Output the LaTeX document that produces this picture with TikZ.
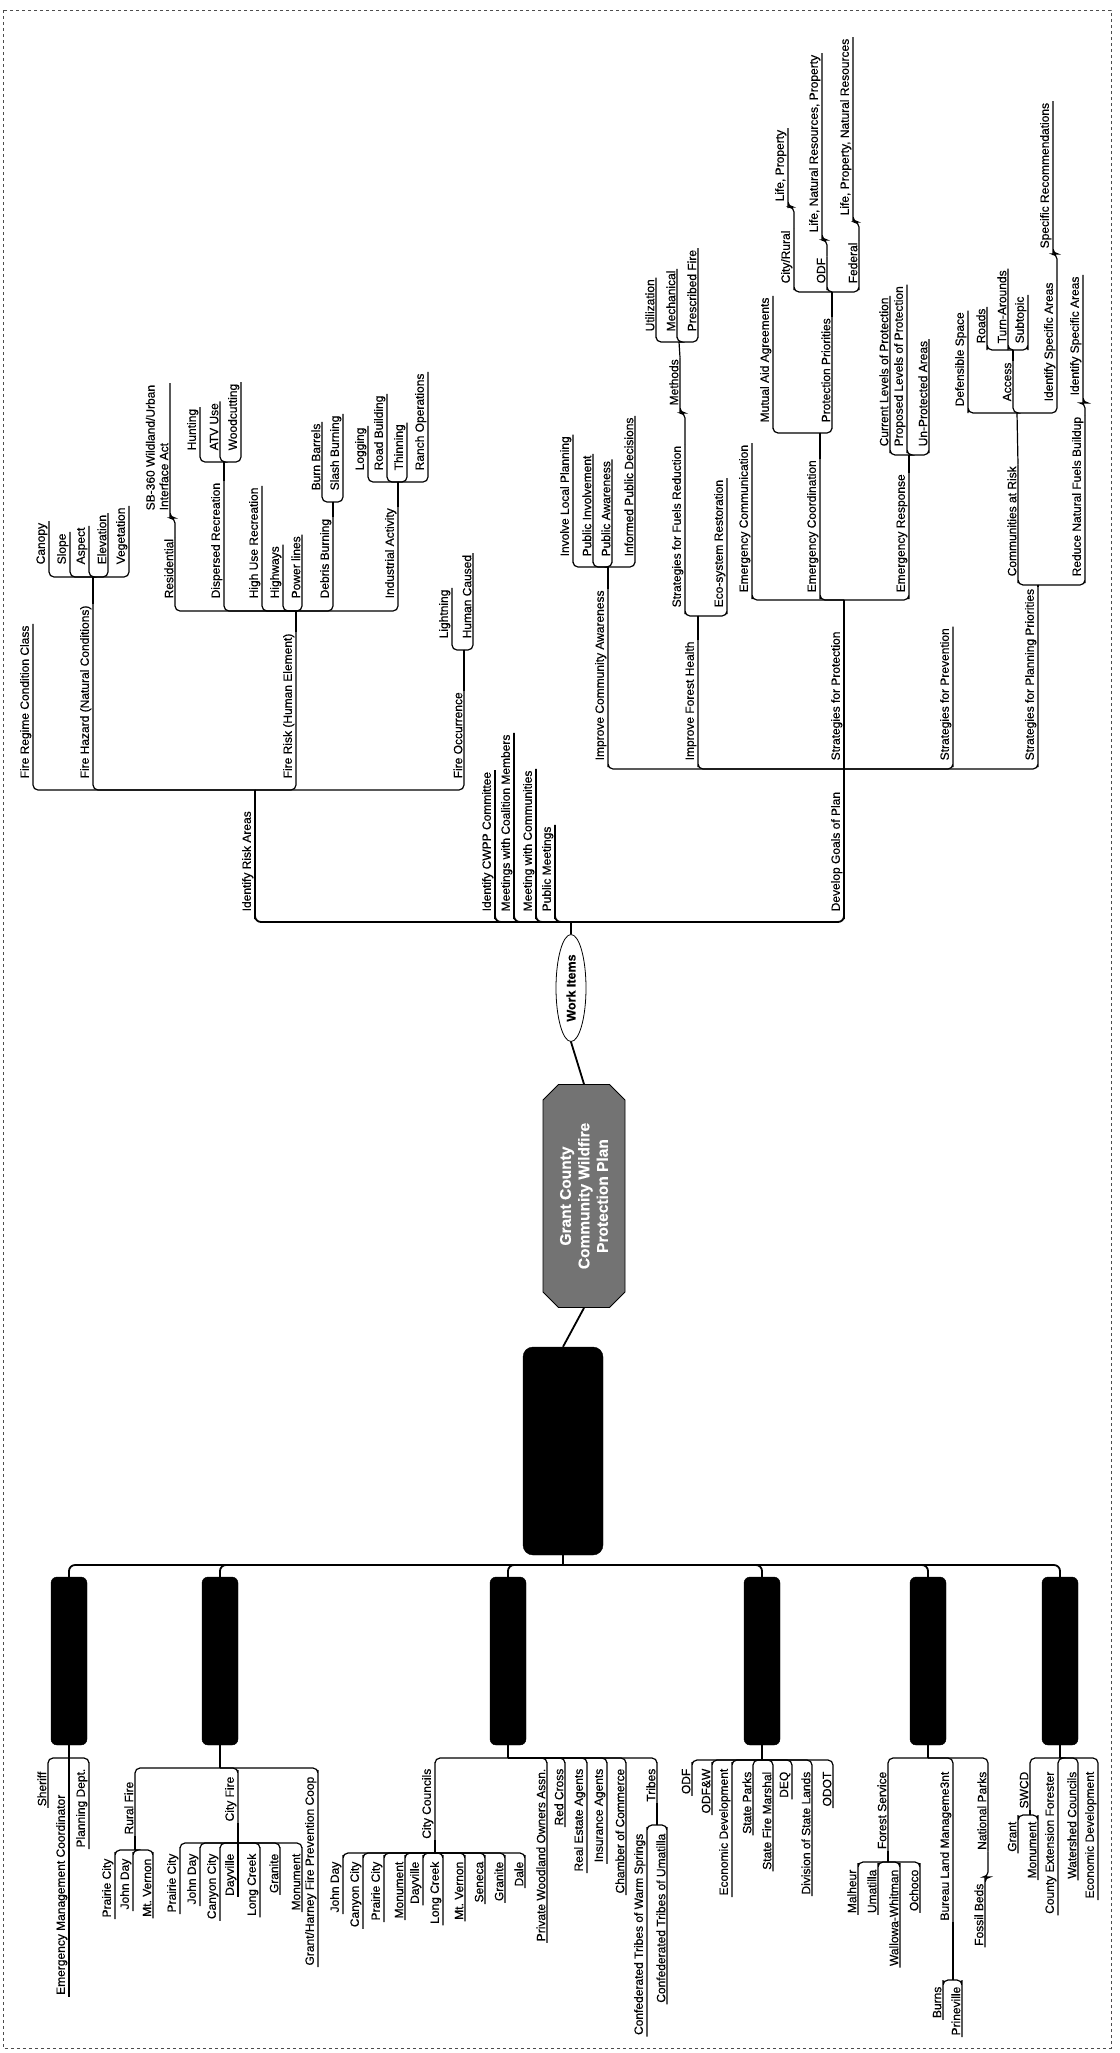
\documentclass[tikz,border=0pt]{standalone}
\usepackage{fontspec}
\setmainfont{Liberation Sans}[FakeBold=0.5]
\usetikzlibrary{shapes.geometric,shapes.misc}
\newcommand\tfont{\fontsize{12}{13.5}\selectfont}
\tikzset{
  topic/.style={rotate=90, anchor=south west, inner sep=1.5pt, font=\tfont},
  member/.style={rotate=90, anchor=south east, inner sep=1.5pt, font=\tfont},
  ln/.style={line width=1.2pt, rounded corners=5pt},
  trunk/.style={line width=1.8pt, rounded corners=6pt},
  hub/.style={ellipse, draw, thick, fill=white, rotate=90, inner sep=0pt,
              minimum width=107pt, minimum height=30pt,
              font=\bfseries\fontsize{12.5}{14}\selectfont},
  root/.style={chamfered rectangle, chamfered rectangle xsep=12pt, draw, thick,
               fill=black!55, text=white, rotate=90, align=center,
               minimum width=223pt, minimum height=82pt,
               font=\bfseries\fontsize{15.5}{18.5}\selectfont},
  hold/.style={draw, fill=black, rounded corners=10pt, minimum width=80pt, minimum height=208pt},
  grp/.style={draw, fill=black, rounded corners=6pt, minimum width=36pt, minimum height=168pt}
}

\begin{document}
\begin{tikzpicture}[x=1pt,y=-1pt]
\useasboundingbox (0,0) rectangle (1119,2053);
\draw[dashed, line width=0.6pt, black!70] (3,10) rectangle (1111,2048);

\node[root] (Root) at (584,1196) {Grant County\\Community Wildfire\\Protection Plan};
\node[hub] (WI) at (571,988) {Work Items};
\node[hold] (Hold) at (563,1451) {};
\draw[trunk] (Root.east) -- (WI.west);
\draw[trunk] (Root.west) -- (Hold.north);

% work items
\coordinate (WIj) at (571,922);
\node[topic] (IRA) at (255,913) {Identify Risk Areas};
\node[topic] (CWPP) at (495,913) {Identify CWPP Committee};
\node[topic] (MCM) at (514,913) {Meetings with Coalition Members};
\node[topic] (MWC) at (536,913) {Meeting with Communities};
\node[topic] (PM) at (555,913) {Public Meetings};
\node[topic] (DGP) at (844,913) {Develop Goals of Plan};
\draw[trunk] (WI.east) -- (WIj);
\foreach \kid in {IRA,CWPP,MCM,MWC,PM,DGP}
  \draw[trunk] (WIj) -| (\kid.south west) -- (\kid.south east);

\coordinate (IRAj) at (255,790);
\node[topic] (FRCC) at (33,780) {Fire Regime Condition Class};
\node[topic] (FH) at (93,780) {Fire Hazard (Natural Conditions)};
\node[topic] (FRH) at (296,780) {Fire Risk (Human Element)};
\node[topic] (FO) at (464,780) {Fire Occurrence};
\draw[ln] (IRA.south east) -- (IRAj);
\foreach \kid in {FRCC,FH,FRH,FO}
  \draw[ln] (IRAj) -| (\kid.south west) -- (\kid.south east);

\coordinate (FHj) at (93,577);
\node[topic] (Can) at (49,566) {Canopy};
\node[topic] (Slo) at (70,566) {Slope};
\node[topic] (Asp) at (89,566) {Aspect};
\node[topic] (Ele) at (108,566) {Elevation};
\node[topic] (Veg) at (129,566) {Vegetation};
\draw[ln] (FH.south east) -- (FHj);
\foreach \kid in {Can,Slo,Asp,Ele,Veg}
  \draw[ln] (FHj) -| (\kid.south west) -- (\kid.south east);

\coordinate (FRHj) at (296,611);
\node[topic] (Res) at (175,600) {Residential};
\node[topic] (DRec) at (224,600) {Dispersed Recreation};
\node[topic] (HUR) at (262,600) {High Use Recreation};
\node[topic] (Hwy) at (283,600) {Highways};
\node[topic] (Pow) at (302,600) {Power lines};
\node[topic] (Deb) at (333,600) {Debris Burning};
\node[topic] (Ind) at (398,600) {Industrial Activity};
\draw[ln] (FRH.south east) -- (FRHj);
\foreach \kid in {Res,DRec,HUR,Hwy,Pow,Deb,Ind}
  \draw[ln] (FRHj) -| (\kid.south west) -- (\kid.south east);

\coordinate (Resj) at (175,518);
\node[topic, align=left] (SB) at (170,512) {SB-360 Wildland/Urban\\Interface Act};
\draw[ln] (Res.south east) -- (Resj) -| (SB.south west) -- (SB.south east);

\coordinate (DRecj) at (224,462);
\node[topic] (Hun) at (200,452) {Hunting};
\node[topic] (ATV) at (220,452) {ATV Use};
\node[topic] (Woo) at (241,452) {Woodcutting};
\draw[ln] (DRec.south east) -- (DRecj);
\foreach \kid in {Hun,ATV,Woo}
  \draw[ln] (DRecj) -| (\kid.south west) -- (\kid.south east);

\coordinate (Debj) at (333,502);
\node[topic] (BuB) at (322,492) {Burn Barrels};
\node[topic] (SlB) at (343,492) {Slash Burning};
\draw[ln] (Deb.south east) -- (Debj);
\foreach \kid in {BuB,SlB}
  \draw[ln] (Debj) -| (\kid.south west) -- (\kid.south east);

\coordinate (Indj) at (398,482);
\node[topic] (Log) at (368,472) {Logging};
\node[topic] (RoB) at (387,472) {Road Building};
\node[topic] (Thi) at (407,472) {Thinning};
\node[topic] (Ran) at (428,472) {Ranch Operations};
\draw[ln] (Ind.south east) -- (Indj);
\foreach \kid in {Log,RoB,Thi,Ran}
  \draw[ln] (Indj) -| (\kid.south west) -- (\kid.south east);

\coordinate (FOj) at (464,650);
\node[topic] (Lig) at (452,640) {Lightning};
\node[topic] (HuC) at (473,640) {Human Caused};
\draw[ln] (FO.south east) -- (FOj);
\foreach \kid in {Lig,HuC}
  \draw[ln] (FOj) -| (\kid.south west) -- (\kid.south east);

% goals of plan
\coordinate (DGPj) at (844,769);
\node[topic] (ICA) at (608,762) {Improve Community Awareness};
\node[topic] (IFH) at (698,762) {Improve Forest Health};
\node[topic] (SPro) at (844,762) {Strategies for Protection};
\node[topic] (SPre) at (953,762) {Strategies for Prevention};
\node[topic] (SPla) at (1038,762) {Strategies for Planning Priorities};
\draw[ln] (DGP.south east) -- (DGPj);
\foreach \kid in {ICA,IFH,SPro,SPre,SPla}
  \draw[ln] (DGPj) -| (\kid.south west) -- (\kid.south east);

\coordinate (ICAj) at (608,567);
\node[topic] (ILP) at (573,558) {Involve Local Planning};
\node[topic] (PIn) at (593,558) {Public Involvement};
\node[topic] (PAw) at (612,558) {Public Awareness};
\node[topic] (IPD) at (635,558) {Informed Public Decisions};
\draw[ln] (ICA.south east) -- (ICAj);
\foreach \kid in {ILP,PIn,PAw,IPD}
  \draw[ln] (ICAj) -| (\kid.south west) -- (\kid.south east);

\coordinate (IFHj) at (698,616);
\node[topic] (SFR) at (685,609) {Strategies for Fuels Reduction};
\node[topic] (ESR) at (727,609) {Eco-system Restoration};
\draw[ln] (IFH.south east) -- (IFHj);
\foreach \kid in {SFR,ESR}
  \draw[ln] (IFHj) -| (\kid.south west) -- (\kid.south east);

\coordinate (SFRj) at (685,413);
\node[topic] (Met) at (680,407) {Methods};
\draw[ln] (SFR.south east) -- (SFRj) -| (Met.south west) -- (Met.south east);

\coordinate (Metj) at (679,342);
\node[topic] (Uti) at (656,333) {Utilization};
\node[topic] (Mec) at (677,333) {Mechanical};
\node[topic] (PFi) at (698,333) {Prescribed Fire};
\draw[ln] (Met.south east) -- (Metj);
\foreach \kid in {Uti,Mec,PFi}
  \draw[ln] (Metj) -| (\kid.south west) -- (\kid.south east);

\coordinate (SProj) at (844,600);
\node[topic] (ECom) at (752,594) {Emergency Communication};
\node[topic] (ECoo) at (820,594) {Emergency Coordination};
\node[topic] (ERes) at (909,594) {Emergency Response};
\draw[ln] (SPro.south east) -- (SProj);
\foreach \kid in {ECom,ECoo,ERes}
  \draw[ln] (SProj) -| (\kid.south west) -- (\kid.south east);

\coordinate (ECooj) at (820,433);
\node[topic] (MAA) at (773,424) {Mutual Aid Agreements};
\node[topic] (PPr) at (832,424) {Protection Priorities};
\draw[ln] (ECoo.south east) -- (ECooj);
\foreach \kid in {MAA,PPr}
  \draw[ln] (ECooj) -| (\kid.south west) -- (\kid.south east);

\coordinate (PPrj) at (832,292);
\node[topic] (CRu) at (794,285) {City/Rural};
\node[topic] (ODFa) at (827,285) {ODF};
\node[topic] (Fed) at (859,285) {Federal};
\draw[ln] (PPr.south east) -- (PPrj);
\foreach \kid in {CRu,ODFa,Fed}
  \draw[ln] (PPrj) -| (\kid.south west) -- (\kid.south east);

\coordinate (CRuj) at (794,207);
\coordinate (ODFaj) at (827,240);
\coordinate (Fedj) at (859,222);
\node[topic] (LP) at (788,203) {Life, Property};
\node[topic] (LNRP) at (822,234) {Life, Natural Resources, Property};
\node[topic] (LPNR) at (853,217) {Life, Property, Natural Resources};
\draw[ln] (CRu.south east) -- (CRuj) -| (LP.south west) -- (LP.south east);
\draw[ln] (ODFa.south east) -- (ODFaj) -| (LNRP.south west) -- (LNRP.south east);
\draw[ln] (Fed.south east) -- (Fedj) -| (LPNR.south west) -- (LPNR.south east);

\coordinate (EResj) at (909,455);
\node[topic] (CLP) at (890,448) {Current Levels of Protection};
\node[topic] (PLP) at (907,448) {Proposed Levels of Protection};
\node[topic] (UPA) at (929,448) {Un-Protected Areas};
\draw[ln] (ERes.south east) -- (EResj);
\foreach \kid in {CLP,PLP,UPA}
  \draw[ln] (EResj) -| (\kid.south west) -- (\kid.south east);

\coordinate (SPlaj) at (1038,585);
\node[topic] (CaR) at (1018,578) {Communities at Risk};
\node[topic] (RNF) at (1085,578) {Reduce Natural Fuels Buildup};
\draw[ln] (SPla.south east) -- (SPlaj);
\foreach \kid in {CaR,RNF}
  \draw[ln] (SPlaj) -| (\kid.south west) -- (\kid.south east);

\coordinate (CaRj) at (1017,413);
\node[topic] (DSp) at (968,408) {Defensible Space};
\node[topic] (Acc) at (1013,403) {Access};
\node[topic] (ISA) at (1057,403) {Identify Specific Areas};
\draw[ln] (CaR.south east) -- (CaRj);
\foreach \kid in {DSp,Acc,ISA}
  \draw[ln] (CaRj) -| (\kid.south west) -- (\kid.south east);

\coordinate (Accj) at (1013,350);
\node[topic] (Roa) at (987,345) {Roads};
\node[topic] (TAr) at (1008,345) {Turn-Arounds};
\node[topic] (Sub) at (1028,345) {Subtopic};
\draw[ln] (Acc.south east) -- (Accj);
\foreach \kid in {Roa,TAr,Sub}
  \draw[ln] (Accj) -| (\kid.south west) -- (\kid.south east);

\coordinate (ISAj) at (1057,254);
\node[topic] (SRe) at (1053,250) {Specific Recommendations};
\draw[ln] (ISA.south east) -- (ISAj) -| (SRe.south west) -- (SRe.south east);

\coordinate (RNFj) at (1085,403);
\node[topic] (ISB) at (1083,397) {Identify Specific Areas};
\draw[ln] (RNF.south east) -- (RNFj) -| (ISB.south west) -- (ISB.south east);

% stakeholder groups
\coordinate (ORGj) at (563,1565);
\node[grp] (G1) at (69,1661) {};
\node[grp] (G2) at (220,1661) {};
\node[grp] (G3) at (508,1661) {};
\node[grp] (G4) at (762,1661) {};
\node[grp] (G5) at (928,1661) {};
\node[grp] (G6) at (1060,1661) {};
\draw[trunk] (Hold.south) -- (ORGj);
\foreach \kid in {G1,G2,G3,G4,G5,G6}
  \draw[trunk] (ORGj) -| (\kid.north);

\coordinate (G1j) at (69,1758);
\node[member] (Sher) at (48,1770) {Sheriff};
\node[member] (EMC) at (69,1793) {Emergency Management Coordinator};
\node[member] (PlD) at (89,1767) {Planning Dept.};
\draw[ln] (G1.south) -- (G1j);
\foreach \kid in {Sher,EMC,PlD}
  \draw[ln] (G1j) -| (\kid.south east) -- (\kid.south west);

\coordinate (G2j) at (220,1768);
\node[member] (RuF) at (135,1780) {Rural Fire};
\node[member] (CiF) at (238,1775) {City Fire};
\node[member] (GHC) at (318,1775) {Grant/Harney Fire Prevention Coop};
\draw[ln] (G2.south) -- (G2j);
\foreach \kid in {RuF,CiF,GHC}
  \draw[ln] (G2j) -| (\kid.south east) -- (\kid.south west);

\coordinate (RuFj) at (135,1850);
\node[member] (RPC) at (115,1857) {Prairie City};
\node[member] (RJD) at (133,1857) {John Day};
\node[member] (RMV) at (153,1857) {Mt.\ Vernon};
\draw[ln] (RuF.south west) -- (RuFj);
\foreach \kid in {RPC,RJD,RMV}
  \draw[ln] (RuFj) -| (\kid.south east) -- (\kid.south west);

\coordinate (CiFj) at (238,1843);
\node[member] (FPC) at (180,1852) {Prairie City};
\node[member] (FJD) at (200,1852) {John Day};
\node[member] (FCC) at (220,1852) {Canyon City};
\node[member] (FDV) at (238,1852) {Dayville};
\node[member] (FLC) at (260,1852) {Long Creek};
\node[member] (FGR) at (280,1852) {Granite};
\node[member] (FMO) at (302,1852) {Monument};
\draw[ln] (CiF.south west) -- (CiFj);
\foreach \kid in {FPC,FJD,FCC,FDV,FLC,FGR,FMO}
  \draw[ln] (CiFj) -| (\kid.south east) -- (\kid.south west);

\coordinate (G3j) at (508,1758);
\node[member] (CCo) at (435,1767) {City Councils};
\node[member] (PWO) at (547,1767) {Private Woodland Owners Assn.};
\node[member] (RCr) at (565,1767) {Red Cross};
\node[member] (REA) at (587,1767) {Real Estate Agents};
\node[member] (InA) at (607,1767) {Insurance Agents};
\node[member] (CoC) at (626,1767) {Chamber of Commerce};
\node[member] (Trb) at (657,1767) {Tribes};
\draw[ln] (G3.south) -- (G3j);
\foreach \kid in {CCo,PWO,RCr,REA,InA,CoC,Trb}
  \draw[ln] (G3j) -| (\kid.south east) -- (\kid.south west);

\coordinate (CCoj) at (435,1853);
\node[member] (CJD) at (343,1860) {John Day};
\node[member] (CCC) at (363,1860) {Canyon City};
\node[member] (CPC) at (384,1860) {Prairie City};
\node[member] (CMO) at (405,1860) {Monument};
\node[member] (CDV) at (423,1860) {Dayville};
\node[member] (CLC) at (443,1860) {Long Creek};
\node[member] (CMV) at (465,1860) {Mt.\ Vernon};
\node[member] (CSE) at (485,1860) {Seneca};
\node[member] (CGR) at (505,1860) {Granite};
\node[member] (CDA) at (525,1860) {Dale};
\draw[ln] (CCo.south west) -- (CCoj);
\foreach \kid in {CJD,CCC,CPC,CMO,CDV,CLC,CMV,CSE,CGR,CDA}
  \draw[ln] (CCoj) -| (\kid.south east) -- (\kid.south west);

\coordinate (Trbj) at (657,1825);
\node[member] (CTW) at (647,1832) {Confederated Tribes of Warm Springs};
\node[member] (CTU) at (667,1832) {Confederated Tribes of Umatilla};
\draw[ln] (Trb.south west) -- (Trbj);
\foreach \kid in {CTW,CTU}
  \draw[ln] (Trbj) -| (\kid.south east) -- (\kid.south west);

\coordinate (G4j) at (762,1760);
\node[member] (ODFo) at (692,1767) {ODF};
\node[member] (ODFW) at (712,1767) {ODF\&W};
\node[member] (EcD) at (732,1767) {Economic Development};
\node[member] (StP) at (753,1770) {State Parks};
\node[member] (SFM) at (773,1770) {State Fire Marshal};
\node[member] (DEQ) at (792,1770) {DEQ};
\node[member] (DSL) at (812,1770) {Division of State Lands};
\node[member] (ODOT) at (833,1770) {ODOT};
\draw[ln] (G4.south) -- (G4j);
\foreach \kid in {ODFo,ODFW,EcD,StP,SFM,DEQ,DSL,ODOT}
  \draw[ln] (G4j) -| (\kid.south east) -- (\kid.south west);

\coordinate (G5j) at (928,1758);
\node[member] (FSe) at (888,1770) {Forest Service};
\node[member] (BLM) at (953,1770) {Bureau Land Manageme3nt};
\node[member] (NPa) at (988,1770) {National Parks};
\draw[ln] (G5.south) -- (G5j);
\foreach \kid in {FSe,BLM,NPa}
  \draw[ln] (G5j) -| (\kid.south east) -- (\kid.south west);

\coordinate (FSej) at (888,1862);
\node[member] (Mal) at (858,1868) {Malheur};
\node[member] (Uma) at (878,1868) {Umatilla};
\node[member] (WaW) at (900,1868) {Wallowa-Whitman};
\node[member] (Och) at (920,1868) {Ochoco};
\draw[ln] (FSe.south west) -- (FSej);
\foreach \kid in {Mal,Uma,WaW,Och}
  \draw[ln] (FSej) -| (\kid.south east) -- (\kid.south west);

\coordinate (BLMj) at (953,1980);
\node[member] (Bur) at (943,1985) {Burns};
\node[member] (Prv) at (962,1985) {Prineville};
\draw[ln] (BLM.south west) -- (BLMj);
\foreach \kid in {Bur,Prv}
  \draw[ln] (BLMj) -| (\kid.south east) -- (\kid.south west);

\coordinate (NPaj) at (988,1877);
\node[member] (FBe) at (985,1882) {Fossil Beds};
\draw[ln] (NPa.south west) -- (NPaj) -| (FBe.south east) -- (FBe.south west);

\coordinate (G6j) at (1060,1758);
\node[member] (SWCD) at (1030,1770) {SWCD};
\node[member] (CEF) at (1058,1770) {County Extension Forester};
\node[member] (WsC) at (1078,1770) {Watershed Councils};
\node[member] (EcE) at (1098,1770) {Economic Development};
\draw[ln] (G6.south) -- (G6j);
\foreach \kid in {SWCD,CEF,WsC,EcE}
  \draw[ln] (G6j) -| (\kid.south east) -- (\kid.south west);

\coordinate (SWCDj) at (1030,1815);
\node[member] (Gra) at (1018,1820) {Grant};
\node[member] (SMO) at (1038,1820) {Monument};
\draw[ln] (SWCD.south west) -- (SWCDj);
\foreach \kid in {Gra,SMO}
  \draw[ln] (SWCDj) -| (\kid.south east) -- (\kid.south west);
\end{tikzpicture}
\end{document}
